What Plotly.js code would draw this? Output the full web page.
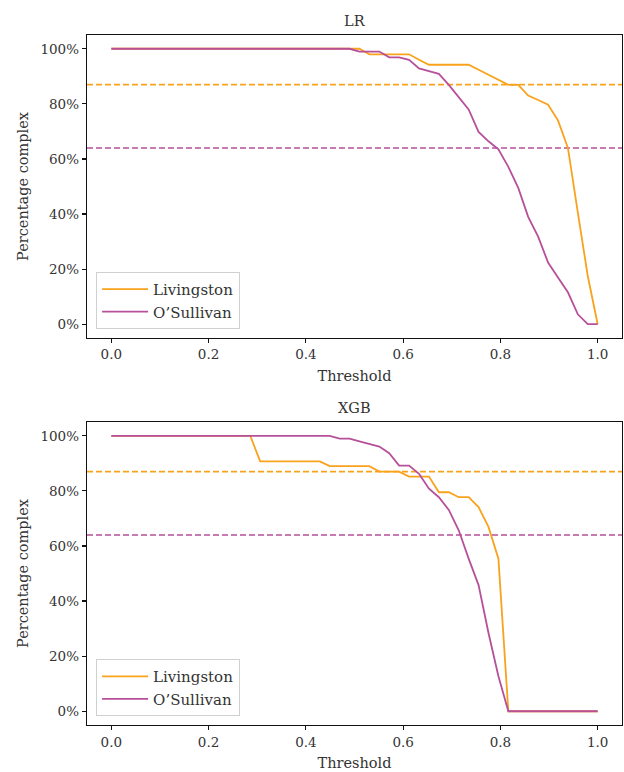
<!DOCTYPE html>
<html>
<head>
<meta charset="utf-8">
<script src="https://cdn.plot.ly/plotly-3.0.1.min.js"></script>
<style>html,body{margin:0;padding:0;background:#fff;}#chart{width:624px;height:772px;}</style>
</head>
<body>
<div id="chart"></div>
<script>
// Thresholds (50 evenly spaced values from 0 to 1)
const thresholds = [0.0000,0.0204,0.0408,0.0612,0.0816,0.1020,0.1224,0.1429,0.1633,0.1837,
  0.2041,0.2245,0.2449,0.2653,0.2857,0.3061,0.3265,0.3469,0.3673,0.3878,
  0.4082,0.4286,0.4490,0.4694,0.4898,0.5102,0.5306,0.5510,0.5714,0.5918,
  0.6122,0.6327,0.6531,0.6735,0.6939,0.7143,0.7347,0.7551,0.7755,0.7959,
  0.8163,0.8367,0.8571,0.8776,0.8980,0.9184,0.9388,0.9592,0.9796,1.0000];

// LR panel
const lrLivingston = [100,100,100,100,100,100,100,100,100,100,
  100,100,100,100,100,100,100,100,100,100,
  100,100,100,100,100,100,98,98,98,98,
  98,96,94.2,94.2,94.2,94.2,94.2,92.4,90.5,88.7,
  86.9,86.9,83,81.4,79.7,74,64,40.5,17.5,0];
const lrOSullivan = [100,100,100,100,100,100,100,100,100,100,
  100,100,100,100,100,100,100,100,100,100,
  100,100,100,100,100,99,99,99,96.9,96.9,
  96,92.9,91.9,90.9,86.9,82.4,78,69.8,66.4,63.5,
  57.1,49.5,39,31.8,22.4,17,11.6,3.6,0,0];

// XGB panel
const xgbLivingston = [100,100,100,100,100,100,100,100,100,100,
  100,100,100,100,100,90.7,90.7,90.7,90.7,90.7,
  90.7,90.7,89,89,89,89,89,87,87,87,
  85.2,85.2,85.2,79.5,79.5,77.7,77.7,74.1,66.9,55.4,
  0,0,0,0,0,0,0,0,0,0];
const xgbOSullivan = [100,100,100,100,100,100,100,100,100,100,
  100,100,100,100,100,100,100,100,100,100,
  100,100,100,99,99,98,97,96.1,93.7,89.2,
  89.2,86.2,80.8,77.7,73.1,65.7,55.4,45.8,28.4,12.7,
  0,0,0,0,0,0,0,0,0,0];

// Reference levels (dashed)
const refLivingston = 87;
const refOSullivan = 64;

const seriesNames = ['Livingston', 'O\u2019Sullivan'];
const panelTitles = ['LR', 'XGB'];
const xTicks = [0, 0.2, 0.4, 0.6, 0.8, 1.0];
const xTickText = ['0.0', '0.2', '0.4', '0.6', '0.8', '1.0'];
const yTicks = [0, 20, 40, 60, 80, 100];
const yTickText = ['0%', '20%', '40%', '60%', '80%', '100%'];

const cOrange = '#f9a21c';
const cPurple = '#b7509b';
const FONT = 'DejaVu Serif, Liberation Serif, serif';
const TXT = '#333333';

function line(y, name, color, xa, ya, leg, show) {
  return {x: thresholds, y: y, name: name, type: 'scatter', mode: 'lines',
    line: {color: color, width: 1.8}, xaxis: xa, yaxis: ya, legend: leg, showlegend: show};
}
function hline(v, color, xa, ya) {
  return {x: [-0.05, 1.05], y: [v, v], type: 'scatter', mode: 'lines',
    line: {color: color, width: 1.6, dash: '6px,3px'}, xaxis: xa, yaxis: ya,
    showlegend: false, hoverinfo: 'skip'};
}

const data = [
  hline(refLivingston, cOrange, 'x', 'y'),
  hline(refOSullivan, cPurple, 'x', 'y'),
  line(lrLivingston, seriesNames[0], cOrange, 'x', 'y', 'legend', true),
  line(lrOSullivan, seriesNames[1], cPurple, 'x', 'y', 'legend', true),
  hline(refLivingston, cOrange, 'x2', 'y2'),
  hline(refOSullivan, cPurple, 'x2', 'y2'),
  line(xgbLivingston, seriesNames[0], cOrange, 'x2', 'y2', 'legend2', true),
  line(xgbOSullivan, seriesNames[1], cPurple, 'x2', 'y2', 'legend2', true)
];

function xaxis(anchor) {
  return {anchor: anchor, range: [-0.05, 1.05], tickvals: xTicks, ticktext: xTickText,
    showline: true, mirror: true, linecolor: '#111', linewidth: 1.3,
    ticks: 'outside', ticklen: 4, tickwidth: 1.2, tickcolor: '#111',
    showgrid: false, zeroline: false,
    tickfont: {family: FONT, size: 13.5, color: TXT},
    title: {text: 'Threshold', font: {family: FONT, size: 14.5, color: TXT}, standoff: 9}};
}
function yaxis(anchor, domain) {
  return {anchor: anchor, domain: domain, range: [-5, 105], tickvals: yTicks, ticktext: yTickText,
    showline: true, mirror: true, linecolor: '#111', linewidth: 1.3,
    ticks: 'outside', ticklen: 4, tickwidth: 1.2, tickcolor: '#111',
    showgrid: false, zeroline: false,
    tickfont: {family: FONT, size: 13.5, color: TXT},
    title: {text: 'Percentage complex', font: {family: FONT, size: 14.5, color: TXT}, standoff: 8}};
}
function legend(y) {
  return {x: 0.017, y: y, xanchor: 'left', yanchor: 'bottom',
    bgcolor: 'rgba(255,255,255,0.8)', bordercolor: '#d0d0d0', borderwidth: 1,
    font: {family: FONT, size: 15, color: TXT}, tracegroupgap: 0, itemwidth: 46};
}

const layout = {
  width: 624, height: 772,
  margin: {l: 87, r: 2, t: 35, b: 47},
  paper_bgcolor: '#fff', plot_bgcolor: '#fff',
  showlegend: true,
  xaxis: Object.assign(xaxis('y'), {domain: [0, 1]}),
  yaxis: yaxis('x', [0.5609, 1]),
  xaxis2: Object.assign(xaxis('y2'), {domain: [0, 1]}),
  yaxis2: yaxis('x2', [0, 0.4391]),
  legend: legend(0.574),
  legend2: legend(0.013),
  annotations: [
    {text: panelTitles[0], xref: 'paper', yref: 'paper', x: 0.5, y: 1, yanchor: 'bottom', yshift: 4,
      showarrow: false, font: {family: FONT, size: 14.5, color: TXT}},
    {text: panelTitles[1], xref: 'paper', yref: 'paper', x: 0.5, y: 0.4391, yanchor: 'bottom', yshift: 4,
      showarrow: false, font: {family: FONT, size: 14.5, color: TXT}}
  ]
};

Plotly.newPlot('chart', data, layout, {displayModeBar: false, staticPlot: true});
</script>
</body>
</html>
